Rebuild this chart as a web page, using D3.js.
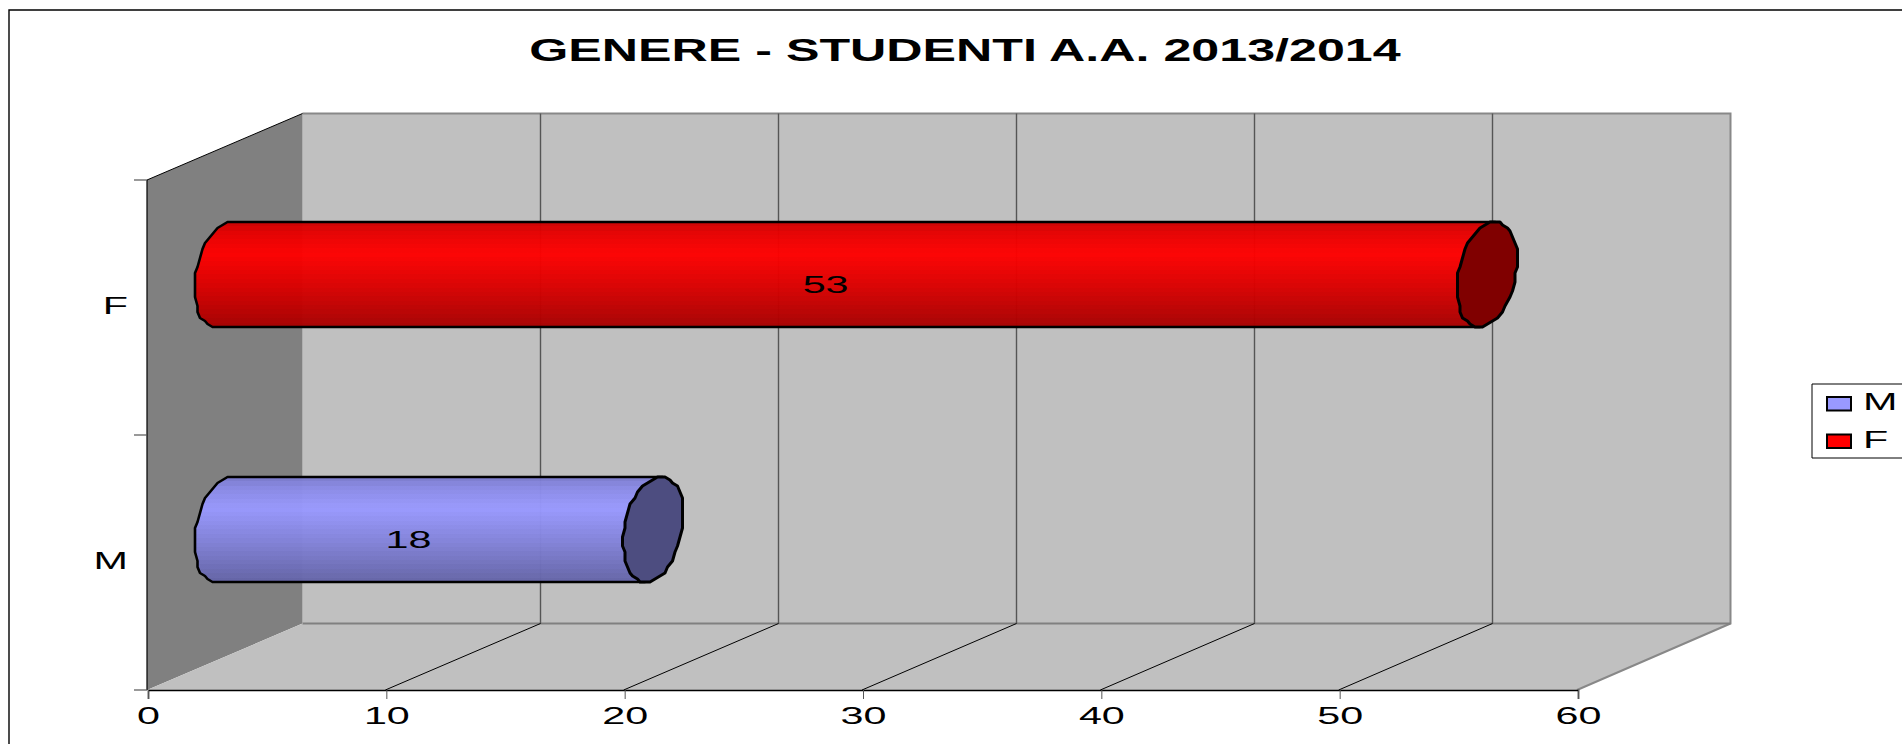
<!DOCTYPE html>
<html>
<head>
	<meta charset='utf-8' />
	<title>Genere - Studenti</title>
	<script src="https://d3js.org/d3.v7.min.js"></script>
	<style>
		html, body { margin: 0; padding: 0; background: #fff; overflow: hidden; }
		svg { display: block; }
		text { font-family: "Liberation Sans", Arial, sans-serif; fill: #000; }
	</style>
</head>
<body>
<script>
	// data
	var titleText = "GENERE - STUDENTI A.A. 2013/2014";
	var categories = ["F", "M"];
	var legendOrder = ["M", "F"];
	var values = [53, 18];
	var valueTicks = [0, 10, 20, 30, 40, 50, 60];

	var barColors = {F: "#ff0000", M: "#9999ff"};
	var capColors = {F: "#800000", M: "#4d4d80"};

	var width = 1902, height = 744;
	var depthY = 66.5;		// the back wall sits this far above the front
	var fontSize = 24;
	var stretch = 1.72;		// the original text is wide

	var svg = d3.select("body").append("svg")
		.attr("width", width)
		.attr("height", height);

	var x = d3.scaleLinear().domain([0, 60]).range([147, 1577]);
	var xBack = d3.scaleLinear().domain([0, 60]).range([302.5, 1730.5]);
	var y = d3.scaleBand().domain(categories).range([180, 690]);

	var top0 = y.range()[0], bottom = y.range()[1];
	var left = x(0), right = x(60), backLeft = xBack(0), backRight = xBack(60);

	// chart frame, cut by the right edge
	svg.append("path")
		.attr("d", `M9,${height} V10 H${width}`)
		.attr("fill", "none")
		.attr("stroke", "#000")
		.attr("stroke-width", 1.4);

	svg.append("text")
		.attr("transform", `translate(965,61) scale(1.62,1)`)
		.attr("text-anchor", "middle")
		.attr("font-size", 31)
		.attr("font-weight", "bold")
		.text(titleText);

	// walls
	var poly = function(pts) { return "M" + pts.join("L") + "Z"; };

	svg.append("path")
		.attr("d", poly([[backLeft, top0 - depthY], [backRight, top0 - depthY], [backRight, bottom - depthY], [backLeft, bottom - depthY]]))
		.attr("fill", "#c0c0c0");
	svg.append("path")
		.attr("d", poly([[left, top0], [backLeft, top0 - depthY], [backLeft, bottom - depthY], [left, bottom]]))
		.attr("fill", "#808080");
	svg.append("path")
		.attr("d", poly([[left, bottom], [backLeft, bottom - depthY], [backRight, bottom - depthY], [right, bottom]]))
		.attr("fill", "#c0c0c0");

	// wall edges
	svg.append("path")
		.attr("d", `M${backLeft},${top0 - depthY} H${backRight} V${bottom - depthY} L${right},${bottom}`)
		.attr("fill", "none")
		.attr("stroke", "#888")
		.attr("stroke-width", 2);
	svg.append("path")
		.attr("d", `M${backLeft},${bottom - depthY} H${backRight}`)
		.attr("stroke", "#808080")
		.attr("stroke-width", 2);

	// gridlines on the back wall and the floor
	var inner = valueTicks.slice(1, -1);
	svg.selectAll(".grid").data(inner).enter().append("path")
		.attr("class", "grid")
		.attr("d", d => `M${xBack(d)},${top0 - depthY} V${bottom - depthY}`)
		.attr("stroke", "#555")
		.attr("stroke-width", 1.4);
	svg.selectAll(".floor").data(inner).enter().append("path")
		.attr("class", "floor")
		.attr("d", d => `M${x(d)},${bottom} L${xBack(d)},${bottom - depthY}`)
		.attr("stroke", "#000")
		.attr("stroke-width", 1);

	svg.append("path")
		.attr("d", `M${left},${top0} L${backLeft},${top0 - depthY}`)
		.attr("stroke", "#000")
		.attr("stroke-width", 1);

	// cylinders
	var halfH = 53, rx = 29, skew = -8;
	var defs = svg.append("defs");

	var ellipsePts = function(cx, cy, from, to, n) {
		var pts = [];
		for (var i = 0; i <= n; i++) {
			var t = from + (to - from) * i / n;
			// snapped to a coarse grid, the original curve is blocky
			pts.push([
				Math.round((cx + rx * Math.cos(t) + skew * Math.sin(t)) / 2.5) * 2.5,
				Math.round((cy + halfH * Math.sin(t)) / 3) * 3
			]);
		}
		return pts;
	};

	categories.forEach(function(cat, i) {
		var col = d3.rgb(barColors[cat]);
		var grad = defs.append("linearGradient")
			.attr("id", "grad" + cat)
			.attr("x1", 0).attr("x2", 0).attr("y1", 0).attr("y2", 1);
		var shade = d3.scaleLinear().domain([0, 0.08, 0.28, 0.6, 1]).range([0.82, 0.9, 1, 0.85, 0.64]);
		d3.range(0, 1, 1 / 24).forEach(function(o) {
			var c = `rgb(${col.r * shade(o)},${col.g * shade(o)},${col.b * shade(o)})`;
			grad.append("stop").attr("offset", o).attr("stop-color", c);
			grad.append("stop").attr("offset", o + 1 / 24).attr("stop-color", c);
		});

		var cy = y(cat) + y.bandwidth() / 2 - depthY / 2;
		var x0 = (x(0) + xBack(0)) / 2;
		var x1 = (x(values[i]) + xBack(values[i])) / 2;

		// left half of the near end, then back along the far end's top and bottom
		var body = ellipsePts(x0, cy, -Math.PI / 2, -3 * Math.PI / 2, 20);
		var capTop = ellipsePts(x1, cy, -Math.PI / 2, -Math.PI / 2, 1)[0];
		var capBottom = ellipsePts(x1, cy, Math.PI / 2, Math.PI / 2, 1)[0];
		svg.append("path")
			.attr("d", "M" + capTop + "L" + body.join("L") + "L" + capBottom + "Z")
			.attr("fill", `url(#grad${cat})`)
			.attr("fill-opacity", 0.97)
			.attr("stroke", "#000")
			.attr("stroke-width", 2.6)
			.attr("stroke-linejoin", "round");

		svg.append("path")
			.attr("d", poly(ellipsePts(x1, cy, 0, 2 * Math.PI, 40)))
			.attr("fill", capColors[cat])
			.attr("stroke", "#000")
			.attr("stroke-width", 3)
			.attr("stroke-linejoin", "round");

		svg.append("text")
			.attr("transform", `translate(${x(values[i] / 2) + 47},${y(cat) + y.bandwidth() / 2 - 15}) scale(${stretch},1)`)
			.attr("text-anchor", "middle")
			.attr("font-size", fontSize)
			.text(values[i]);
	});

	// axes
	var axisX = svg.append("g")
		.attr("transform", `translate(1,${bottom})`)
		.call(d3.axisBottom(x).tickValues(valueTicks).tickSize(9).tickPadding(8));
	axisX.attr("font-family", null).attr("font-size", null);
	axisX.select(".domain").attr("stroke", "#000").attr("stroke-width", 1.6);
	axisX.selectAll("line").attr("stroke", "#555");
	axisX.selectAll("text")
		.attr("font-size", fontSize)
		.attr("transform", `scale(${stretch},1)`);

	svg.append("path")
		.attr("d", `M${left},${top0} V${bottom}`)
		.attr("stroke", "#000")
		.attr("stroke-width", 1.2);

	// category ticks sit on the band edges, so they are not the axis ticks
	var catEdges = [y("F"), y("M"), y("M") + y.bandwidth()];
	svg.selectAll(".cattick").data(catEdges).enter().append("path")
		.attr("class", "cattick")
		.attr("d", d => `M${left - 13},${d} H${left}`)
		.attr("stroke", "#555")
		.attr("stroke-width", 1.2);

	svg.selectAll(".catlabel").data(categories).enter().append("text")
		.attr("class", "catlabel")
		.attr("transform", d => `translate(128,${y(d) + y.bandwidth() / 2 + 6.5}) scale(${stretch},1)`)
		.attr("text-anchor", "end")
		.attr("font-size", fontSize)
		.text(d => d);

	// legend, also cut by the right edge
	svg.append("path")
		.attr("d", `M${width},384 H1812 V458 H${width}`)
		.attr("fill", "#fff")
		.attr("stroke", "#000")
		.attr("stroke-width", 1);

	var legend = svg.selectAll(".legend").data(legendOrder).enter().append("g")
		.attr("class", "legend")
		.attr("transform", (d, i) => `translate(1827,${397 + i * 37.5})`);
	legend.append("rect")
		.attr("width", 24).attr("height", 13.5)
		.attr("fill", d => barColors[d])
		.attr("stroke", "#000")
		.attr("stroke-width", 2);
	legend.append("text")
		.attr("transform", `translate(36,13) scale(${stretch},1)`)
		.attr("font-size", fontSize)
		.text(d => d);
</script>
</body>
</html>
